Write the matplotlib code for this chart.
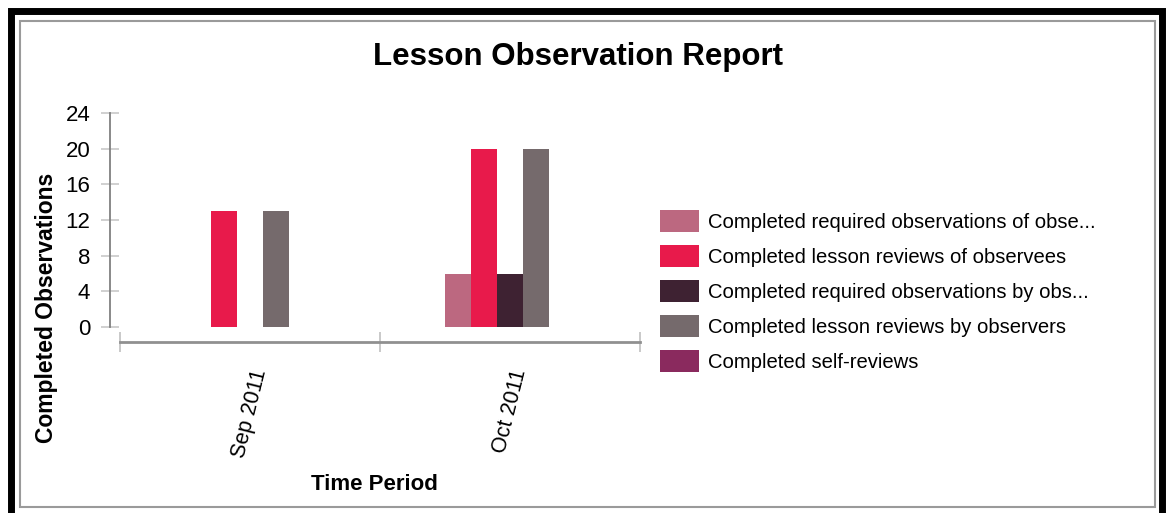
import numpy as np
import matplotlib.pyplot as plt
from matplotlib.patches import Rectangle, Patch

# Data
periods = ['Sep 2011', 'Oct 2011']
series_names = [
    'Completed required observations of obse...',
    'Completed lesson reviews of observees',
    'Completed required observations by obs...',
    'Completed lesson reviews by observers',
    'Completed self-reviews',
]
req_obs_of = [0, 6]
reviews_of = [13, 20]
req_obs_by = [0, 6]
reviews_by = [13, 20]
self_reviews = [0, 0]
series_values = [req_obs_of, reviews_of, req_obs_by, reviews_by, self_reviews]
series_colors = ['#bc6880', '#e81a4b', '#3e2232', '#756a6c', '#8a2a5e']
y_ticks = [0, 4, 8, 12, 16, 20, 24]

plt.rcParams['font.family'] = ['Liberation Sans', 'DejaVu Sans']

W, H = 1169, 513
fig = plt.figure(figsize=(W / 100, H / 100), dpi=100)


def px(x, y):
    """pixel coords (top-left origin) -> figure fraction"""
    return x / W, 1 - y / H


# outer black frame and inner grey frame
fig.patches.append(Rectangle((11 / W, -0.1), (1162 - 11) / W, 1.1 - 11.5 / H,
                             transform=fig.transFigure, fill=False,
                             edgecolor='black', linewidth=5))
fig.patches.append(Rectangle((20 / W, 1 - 507 / H), (1155 - 20) / W, (507 - 21) / H,
                             transform=fig.transFigure, fill=False,
                             edgecolor='#9a9a9a', linewidth=1.5))

# plot area
left, top = px(120, 113)
right, bottom = px(640, 327)
ax = fig.add_axes([left, bottom, right - left, top - bottom])

x = np.arange(len(periods))
bar_w = 0.1
n = len(series_values)
for i, (vals, col) in enumerate(zip(series_values, series_colors)):
    ax.bar(x + (i - (n - 1) / 2) * bar_w, vals, width=bar_w, color=col)

ax.set_xlim(-0.5, 1.5)
ax.set_ylim(0, 24)
ax.set_yticks(y_ticks)

for s in ['top', 'right']:
    ax.spines[s].set_visible(False)
ax.spines['left'].set_position(('outward', 7))
ax.spines['bottom'].set_position(('outward', 11))
ax.spines['left'].set_color('#808080')
ax.spines['bottom'].set_color('#909090')
ax.spines['left'].set_linewidth(1.3)
ax.spines['bottom'].set_linewidth(2)

ax.tick_params(axis='y', direction='inout', length=13, color='#c8c8c8',
               width=1.2, labelsize=16, pad=8)
ax.set_xticks(x)
ax.set_xticklabels(periods, rotation=76, fontsize=15.5)
ax.set_xticks([-0.5, 0.5, 1.5], minor=True)
ax.tick_params(axis='x', which='major', length=0, pad=18)
ax.tick_params(axis='x', which='minor', direction='inout', length=14,
               color='#c0c0c0', width=1.2)

ax.set_ylabel('Completed Observations', fontsize=16.5, fontweight='bold')
ax.yaxis.set_label_coords(-0.12, 0.09)
ax.set_xlabel('Time Period', fontsize=16, fontweight='bold')
ax.xaxis.set_label_coords(0.49, -0.685)

fig.text(*px(578, 57), 'Lesson Observation Report', fontsize=22.5,
         fontweight='bold', ha='center', va='center')

handles = [Patch(facecolor=c, edgecolor='none') for c in series_colors]
fig.legend(handles, series_names, loc='upper left',
           bbox_to_anchor=px(660, 210), frameon=False, fontsize=14.6,
           handlelength=1.9, handleheight=1.3, labelspacing=0.64,
           handletextpad=0.45, borderaxespad=0, borderpad=0)

fig.savefig('out.png', dpi=100)
